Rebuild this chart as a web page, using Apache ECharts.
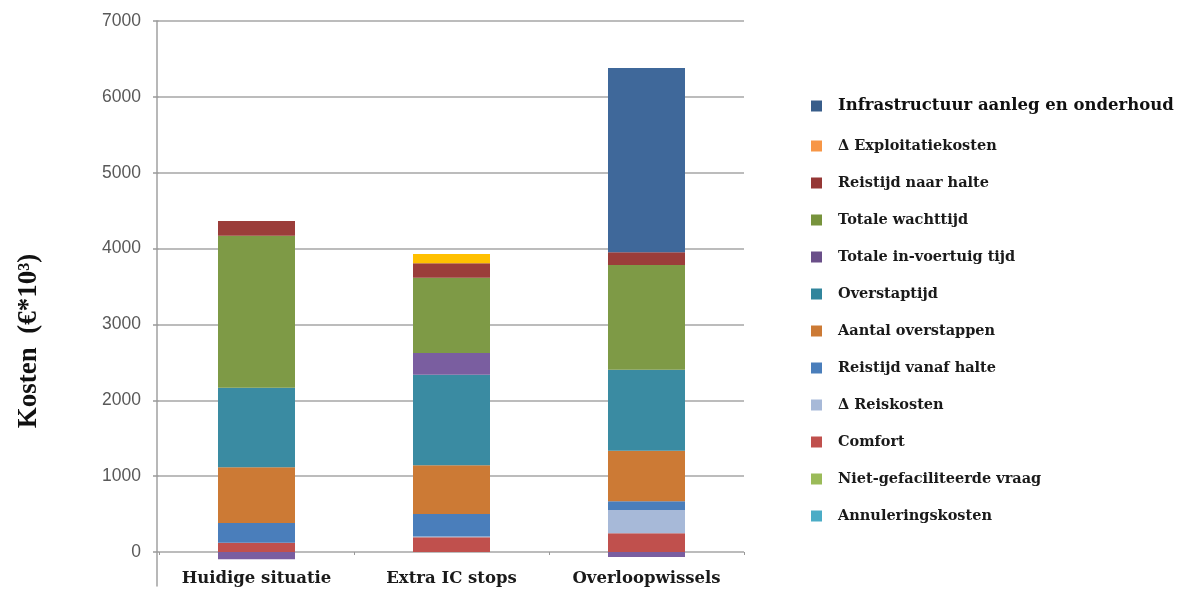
<!DOCTYPE html>
<html>
<head>
<meta charset="utf-8">
<script src="https://cdn.jsdelivr.net/npm/echarts@6/dist/echarts.min.js"></script>
<style>
html,body{margin:0;padding:0;background:#fff;}
#c{width:1185px;height:589px;}
</style>
</head>
<body>
<div id="c"></div>
<script>
const categories = ['Huidige situatie', 'Extra IC stops', 'Overloopwissels'];
const yTicks = [0, 1000, 2000, 3000, 4000, 5000, 6000, 7000];

// series values, bottom of stack first
const annulering      = [0, 0, 0];
const nietGefac       = [0, 0, 0];
const comfort         = [123, 194, 246];
const reiskosten      = [0, 10, 308];
const reistijdVanaf   = [259, 297, 114];
const aantalOverst    = [735, 641, 667];
const overstaptijd    = [1049, 1195, 1068];
const inVoertuig      = [-96, 286, -66];
const wachttijd       = [2004, 993, 1380];
const reistijdNaar    = [193, 190, 168];
const exploitatie     = [0, 122, 0];
const infrastructuur  = [0, 0, 2429];

const seriesDefs = [
  ['Annuleringskosten', annulering, '#4BACC6', '#4BACC6'],
  ['Niet-gefaciliteerde vraag', nietGefac, '#9BBB59', '#9BBB59'],
  ['Comfort', comfort, '#C0504D', '#C0504D'],
  ['\u0394 Reiskosten', reiskosten, '#A7B9D8', '#A7B9D8'],
  ['Reistijd vanaf halte', reistijdVanaf, '#4A7EBB', '#4A7EBB'],
  ['Aantal overstappen', aantalOverst, '#CC7A35', '#CC7A35'],
  ['Overstaptijd', overstaptijd, '#3A8BA2', '#31859C'],
  ['Totale in-voertuig tijd', inVoertuig, '#7A5EA0', '#6A4F89'],
  ['Totale wachttijd', wachttijd, '#7E9A46', '#77933C'],
  ['Reistijd naar halte', reistijdNaar, '#9B3D3A', '#953735'],
  ['\u0394 Exploitatiekosten', exploitatie, '#FFC000', '#F79646'],
  ['Infrastructuur aanleg en onderhoud', infrastructuur, '#3F689A', '#385D8A']
];

const legendOrder = seriesDefs.slice().reverse();

const chart = echarts.init(document.getElementById('c'));
const serifFont = '"DejaVu Serif", "Liberation Serif", serif';

chart.setOption({
  animation: false,
  backgroundColor: '#fff',
  grid: [
    {left: 159, width: 585, top: 21, bottom: 37},
    {left: 157, width: 585, top: 21, bottom: 3},
    {left: 157, width: 585, top: 93, bottom: 0}
  ],
  legend: {
    orient: 'vertical',
    left: 806,
    top: 90,
    itemWidth: 11,
    itemHeight: 11,
    itemGap: 21,
    icon: 'rect',
    textStyle: {fontFamily: serifFont, fontWeight: 'bold', fontSize: 14.5, color: '#1a1a1a', lineHeight: 16, padding: [0, 0, 0, 11]},
    data: legendOrder.map((d, i) => ({
      name: d[0],
      itemStyle: {color: d[3]},
      textStyle: i === 0 ? {fontSize: 16.5, lineHeight: 22, color: '#111'} : undefined
    }))
  },
  xAxis: [
    {
      type: 'category', gridIndex: 0, data: categories,
      axisLine: {show: false},
      axisTick: {show: true, length: 3, lineStyle: {color: '#999'}},
      axisLabel: {margin: 18, fontFamily: serifFont, fontWeight: 'bold', fontSize: 16.5, color: '#1a1a1a'}
    },
    {type: 'value', gridIndex: 1, show: false},
    {type: 'value', gridIndex: 2, show: false}
  ],
  yAxis: [
    {
      type: 'value', gridIndex: 0, min: 0, max: 7000, interval: 1000,
      axisLine: {show: false},
      axisTick: {show: true, length: 6, lineStyle: {color: '#999', width: 1.5}},
      axisLabel: {margin: 18, fontFamily: '"Liberation Sans", Arial, sans-serif', fontSize: 17.5, color: '#595959',
        formatter: v => yTicks.indexOf(v) >= 0 ? String(v) : ''},
      splitLine: {show: true, lineStyle: {color: '#A6A6A6', width: 1.5}}
    },
    {
      type: 'value', gridIndex: 1, min: 0, max: 1,
      axisLine: {show: true, lineStyle: {color: '#A0A0A0', width: 1.5}},
      axisTick: {show: false}, axisLabel: {show: false}, splitLine: {show: false}
    },
    {
      type: 'value', gridIndex: 2, min: 0, max: 1,
      axisLine: {show: false}, axisTick: {show: false}, axisLabel: {show: false}, splitLine: {show: false},
      name: 'Kosten  (\u20AC*10\u00B3)', nameLocation: 'middle', nameGap: 114, nameRotate: 90,
      nameTextStyle: {fontFamily: '"Liberation Serif", serif', fontWeight: 'bold', fontSize: 27, color: '#111'}
    }
  ],
  series: seriesDefs.map(d => ({
    name: d[0], type: 'bar', stack: 'total', data: d[1],
    xAxisIndex: 0, yAxisIndex: 0,
    barWidth: 77,
    clip: false,
    itemStyle: {color: d[2]},
    emphasis: {disabled: true}
  }))
});
</script>
</body>
</html>
